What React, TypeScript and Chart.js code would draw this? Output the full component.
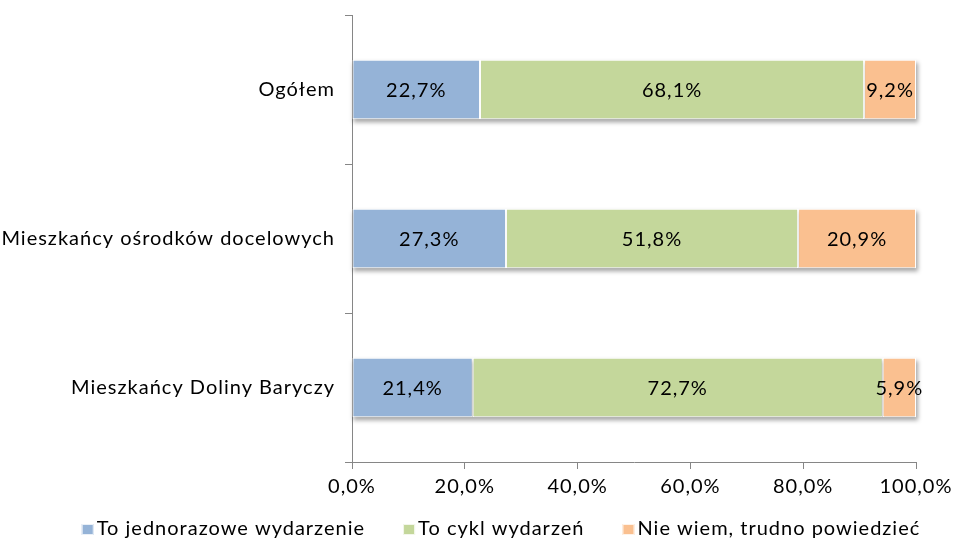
import React, { useEffect, useRef } from "react";
import { Chart, registerables } from "chart.js";

Chart.register(...registerables);

const categories = ["Ogółem", "Mieszkańcy ośrodków docelowych", "Mieszkańcy Doliny Baryczy"];
const seriesNames = ["To jednorazowe wydarzenie", "To cykl wydarzeń", "Nie wiem, trudno powiedzieć"];
const oneTime = [22.7, 27.3, 21.4];
const cycle = [68.1, 51.8, 72.7];
const dontKnow = [9.2, 20.9, 5.9];
const xTicks = [0, 20, 40, 60, 80, 100];

const colors = ["#95B3D7", "#C4D79B", "#FAC090"];
const FONT = "Lato, 'Open Sans', sans-serif";
const AXIS = "#868686";
const SPACING = "1px";

const fmt = (v: number) => v.toFixed(1).replace(".", ",") + "%";

const setSpacing = (chart: any) => {
  if (chart.ctx) (chart.ctx as any).letterSpacing = SPACING;
};

const barPlugin = {
  id: "barExtras",
  beforeUpdate: setSpacing,
  beforeLayout: setSpacing,
  beforeDraw: setSpacing,
  beforeDatasetsDraw(chart: any) {
    const ctx = chart.ctx;
    const metas = chart.data.datasets.map((_: any, i: number) => chart.getDatasetMeta(i));
    ctx.save();
    ctx.filter = "blur(2px)";
    ctx.fillStyle = "rgba(0,0,0,0.35)";
    categories.forEach((_, j) => {
      let left = Infinity, right = -Infinity, top = 0, h = 0;
      metas.forEach((m: any) => {
        const el = m.data[j];
        const p = el.getProps(["x", "y", "base", "height"], true);
        left = Math.min(left, p.base, p.x);
        right = Math.max(right, p.base, p.x);
        top = p.y - p.height / 2;
        h = p.height;
      });
      ctx.fillRect(left + 1, top + 3, right - left + 1, h);
    });
    ctx.restore();
  },
  afterDatasetsDraw(chart: any) {
    const ctx = chart.ctx;
    ctx.save();
    ctx.letterSpacing = SPACING;
    ctx.font = `20px ${FONT}`;
    ctx.fillStyle = "#000";
    ctx.textAlign = "center";
    ctx.textBaseline = "middle";
    chart.data.datasets.forEach((ds: any, i: number) => {
      const meta = chart.getDatasetMeta(i);
      meta.data.forEach((el: any, j: number) => {
        const p = el.getProps(["x", "y", "base"], true);
        ctx.fillText(fmt(ds.data[j]), (p.x + p.base) / 2, p.y + 1);
      });
    });
    ctx.restore();
  },
  afterDraw(chart: any) {
    const ctx = chart.ctx;
    ctx.save();
    ctx.letterSpacing = SPACING;
    ctx.font = `20px ${FONT}`;
    ctx.textBaseline = "middle";
    ctx.textAlign = "left";
    const box = 12, gapText = 3, gapItem = 38;
    const widths = chart.data.datasets.map((d: any) => box + gapText + ctx.measureText(d.label).width);
    const total = widths.reduce((a: number, b: number) => a + b, 0) + gapItem * (widths.length - 1);
    let x = 501 - total / 2;
    const y = 529;
    chart.data.datasets.forEach((d: any, i: number) => {
      ctx.fillStyle = d.backgroundColor;
      ctx.fillRect(x, y - 5, box, 11);
      ctx.strokeStyle = "rgba(255,255,255,0.8)";
      ctx.lineWidth = 1;
      ctx.strokeRect(x + 0.5, y - 4.5, box - 1, 10);
      ctx.fillStyle = "#000";
      ctx.fillText(d.label, x + box + gapText, y);
      x += widths[i] + gapItem;
    });
    ctx.restore();
  },
};

export default function App() {
  const ref = useRef<HTMLCanvasElement>(null);
  useEffect(() => {
    document.body.style.margin = "0";
    const chart = new Chart(ref.current!, {
      type: "bar",
      data: {
        labels: categories,
        datasets: [oneTime, cycle, dontKnow].map((d, i) => ({
          label: seriesNames[i],
          data: d,
          backgroundColor: colors[i],
          borderColor: "#FFFFFF",
          borderWidth: 1,
          borderSkipped: false,
          barPercentage: 0.4,
          categoryPercentage: 1,
        })),
      },
      options: {
        indexAxis: "y",
        responsive: false,
        animation: false,
        layout: { padding: { top: 15, right: 38, left: 0, bottom: 0 } },
        plugins: { legend: { display: false }, tooltip: { enabled: false } },
        scales: {
          x: {
            stacked: true,
            min: 0,
            max: 100,
            afterBuildTicks: (s: any) => {
              s.ticks = xTicks.map((v) => ({ value: v }));
            },
            afterFit: (s: any) => {
              s.height = 81;
              s.paddingLeft = 0;
              s.paddingRight = 0;
            },
            ticks: {
              color: "#000",
              font: { family: FONT, size: 20 },
              padding: 6,
              maxRotation: 0,
              callback: (v: any) => fmt(Number(v)),
            },
            grid: { drawOnChartArea: false, drawTicks: true, tickLength: 7, color: AXIS },
            border: { display: true, color: AXIS, width: 1 },
          },
          y: {
            stacked: true,
            afterFit: (s: any) => {
              s.width = 352;
              s.paddingTop = 0;
              s.paddingBottom = 0;
            },
            ticks: {
              color: "#000",
              font: { family: FONT, size: 20 },
              padding: 10,
            },
            grid: { drawOnChartArea: false, drawTicks: true, tickLength: 7, color: AXIS, offset: true },
            border: { display: true, color: AXIS, width: 1 },
          },
        },
      },
      plugins: [barPlugin],
    });
    return () => chart.destroy();
  }, []);
  return (
    <div style={{ width: 954, height: 543 }}>
      <canvas ref={ref} width={954} height={543} style={{ display: "block" }} />
    </div>
  );
}
